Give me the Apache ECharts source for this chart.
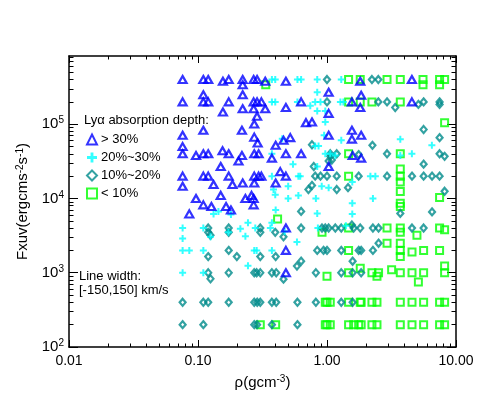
<!DOCTYPE html>
<html>
<head>
<meta charset="utf-8">
<script src="https://cdn.jsdelivr.net/npm/echarts@6/dist/echarts.min.js"></script>
<style>
  html, body { margin: 0; padding: 0; background: #fff; }
  #chart { width: 484px; height: 415px; }
</style>
</head>
<body>
<div id="chart"></div>
<script>
// Lya absorption depth groups, [rho (g cm^-3), Fxuv (erg cm^-2 s^-1)]
const gt30 = [
  [0.076, 4e5], [0.11, 4e5], [0.12, 4e5], [0.156, 3.8e5], [0.173, 4e5], [0.222, 4e5], [0.222, 3.4e5],
  [0.27, 4e5], [0.287, 4e5], [0.332, 3.8e5], [0.48, 3.8e5], [1.81, 3.8e5], [4.55, 4e5],
  [0.076, 2e5], [0.11, 2.5e5], [0.11, 2e5], [0.12, 2e5], [0.173, 2e5], [0.222, 2.5e5], [0.27, 2e5],
  [0.287, 2e5], [0.31, 2e5], [0.63, 2e5], [1.56, 2e5], [4.55, 2e5], [1.03, 2.7e5], [1.84, 2.46e5],
  [0.48, 1.68e5], [1.81, 1.68e5], [0.156, 1.46e5], [0.222, 1.62e5], [0.27, 1.62e5], [0.332, 1.62e5],
  [0.287, 1.28e5], [0.273, 1.01e5], [1.03, 1.4e5], [0.687, 1.05e5], [0.765, 1.07e5],
  [0.076, 7.1e4], [0.11, 8.3e4], [0.219, 8.3e4], [0.273, 6.7e4], [0.29, 5.6e4], [0.40, 5.2e4],
  [0.46, 6.1e4], [0.519, 6.6e4], [1.03, 7.1e4], [1.56, 8.3e4], [1.56, 6.3e4], [1.84, 7.1e4],
  [0.076, 5e4], [0.076, 4e4], [0.0965, 3.8e4], [0.11, 4e4], [0.12, 4e4], [0.155, 4.4e4], [0.173, 4e4],
  [0.219, 3.8e4], [0.273, 4e4], [0.295, 4e4], [0.374, 3.5e4], [0.48, 4e4], [0.63, 4e4], [1.58, 3.8e4],
  [1.84, 3.5e4], [0.15, 2.7e4], [0.206, 3.2e4], [1.03, 2.7e4],
  [0.076, 2e4], [0.11, 2e4], [0.12, 2e4], [0.173, 2e4], [0.273, 2e4], [0.295, 2e4], [0.31, 2e4],
  [0.434, 2.3e4], [0.48, 2e4],
  [0.076, 1.46e4], [0.132, 1.54e4], [0.185, 1.54e4], [0.222, 1.62e4], [0.273, 1.62e4], [0.40, 1.62e4],
  [0.0965, 1e4], [0.15, 1.1e4], [0.233, 1e4], [0.26, 1.1e4], [0.27, 1e4],
  [0.11, 8.2e3], [0.127, 7.8e3], [0.165, 7.8e3], [0.18, 7e3], [0.27, 8.2e3], [0.0856, 6.2e3],
  [0.48, 4e3], [0.48, 2e3], [0.48, 1e3]
]
const p20to30 = [
  [0.374, 4e5], [0.397, 4e5], [0.59, 4e5], [0.63, 4e5], [0.84, 4e5], [1.29, 4e5],
  [0.374, 2e5], [0.397, 2e5], [0.59, 2e5], [0.81, 2e5], [0.89, 2e5], [1.27, 2e5], [1.34, 2e5],
  [0.84, 2.7e5], [0.742, 1.77e5], [0.84, 1.51e5], [0.97, 1.51e5], [0.97, 1.07e5], [0.95, 7.1e4],
  [1.29, 6.1e4], [0.45, 6.4e4],
  [0.81, 5.1e4], [0.86, 5.1e4], [0.97, 4e4], [1.06, 4e4], [1.16, 3.8e4], [0.374, 4e4], [3.7, 6.3e4],
  [3.7, 3.8e4], [4.55, 4e4], [6.5, 5.2e4],
  [0.545, 2.9e4], [0.84, 2.7e4], [0.374, 2e4], [0.60, 2e4], [0.62, 2e4], [2.17, 2e4], [2.37, 2e4],
  [0.50, 1.46e4], [0.385, 1.32e4], [0.397, 1.12e4], [0.91, 1.46e4], [1.03, 1.4e4], [1.57, 1.67e4],
  [0.50, 1e4], [0.60, 1.1e4], [0.82, 1e4], [2.27, 1e4],
  [1.57, 8.6e3], [1.57, 6.2e3], [0.84, 6.3e3], [0.40, 7e3], [0.144, 6.7e3], [0.132, 6.2e3], [0.18, 6.1e3],
  [0.244, 4.7e3], [0.076, 4e3], [0.11, 4e3], [0.278, 4e3], [0.374, 4.7e3], [0.364, 4e3], [0.213, 3.9e3],
  [0.172, 3.5e3], [0.47, 3.6e3], [0.85, 4e3], [1.40, 4.3e3],
  [0.076, 2.9e3], [0.125, 3.05e3], [0.233, 3.1e3], [0.585, 2.6e3],
  [0.076, 2e3], [0.0856, 2e3], [0.11, 2e3], [0.273, 2e3], [0.285, 2e3], [0.374, 2e3], [0.244, 1.24e3],
  [0.076, 1e3], [0.11, 1e3]
]
const p10to20 = [
  [1.0, 4e5], [2.23, 4e5], [2.5, 4e5], [1.0, 2e5], [2.5, 2e5], [2.92, 2e5], [3.38, 1.68e5],
  [5.11, 1.85e5], [5.61, 2e5], [7.46, 2e5], [7.46, 1.85e5],
  [5.61, 8.5e4], [7.46, 6.6e4], [0.765, 5.3e4], [2.25, 5.2e4], [2.92, 4e4], [7.46, 4e4], [8.16, 3.7e4],
  [1.06, 4e4], [1.19, 4e4], [1.06, 3.7e4], [1.09, 3.3e4], [1.03, 3.2e4], [1.76, 3.9e4], [0.79, 2.7e4],
  [5.61, 2.9e4],
  [0.81, 2e4], [0.89, 2e4], [1.0, 2e4], [1.19, 2e4], [1.76, 2e4], [2.92, 2e4], [4.56, 2e4], [5.61, 2e4],
  [6.52, 2e4], [7.46, 2e4],
  [0.718, 1.32e4], [0.765, 1.5e4], [1.19, 1.32e4], [1.455, 1.4e4], [8.16, 1.25e4], [0.63, 6.7e3],
  [3.7, 6.3e3], [6.52, 6.6e3],
  [0.12, 4e3], [0.12, 3.5e3], [0.125, 3.2e3], [0.173, 4e3], [0.173, 3.5e3], [0.304, 4e3], [0.304, 3.5e3],
  [0.397, 3.5e3], [0.46, 3.05e3], [0.63, 4e3], [0.915, 4e3], [0.97, 4e3], [1.03, 4e3], [1.16, 4e3],
  [1.29, 4e3], [1.56, 4.4e3], [1.61, 4e3], [1.81, 4e3], [2.27, 4e3], [2.51, 4e3], [4.56, 4e3],
  [5.61, 4e3], [2.51, 2.5e3],
  [0.12, 1.65e3], [0.173, 2e3], [0.20, 1.65e3], [0.304, 1.65e3], [0.40, 1.65e3], [0.84, 2e3],
  [0.94, 2e3], [1.0, 2e3], [1.29, 2e3], [1.76, 2e3], [1.84, 2e3], [2.27, 2e3], [1.58, 1.43e3],
  [0.12, 1e3], [0.125, 830], [0.173, 1e3], [0.273, 1e3], [0.285, 1e3], [0.304, 1e3], [0.374, 1e3],
  [0.404, 1e3], [0.46, 820], [0.585, 1.23e3], [0.63, 1.43e3], [0.82, 1e3], [1.29, 1e3], [1.58, 1e3],
  [1.84, 1e3],
  [0.076, 400], [0.11, 400], [0.12, 400], [0.173, 400], [0.273, 400], [0.288, 400], [0.304, 400],
  [0.374, 400], [0.404, 400], [0.59, 400], [0.82, 400], [1.29, 400], [1.58, 400],
  [0.076, 200], [0.11, 200], [0.273, 200], [0.287, 200], [0.374, 200], [0.59, 200]
]
const lt10 = [
  [0.335, 3.4e5],
  [1.47, 4e5], [1.81, 4e5], [2.92, 4e5], [3.7, 4e5], [5.55, 4e5], [5.55, 3.4e5], [7.46, 4e5],
  [7.46, 3.4e5], [8.16, 4e5],
  [1.47, 2e5], [1.81, 2e5], [2.23, 2e5], [3.7, 2e5], [8.16, 1.05e5],
  [1.47, 4e4], [3.7, 4e4],
  [1.47, 2e4], [3.7, 2.5e4], [3.7, 2e4], [3.7, 1.67e4], [3.7, 1.24e4], [3.7, 8.6e3], [3.7, 7.8e3],
  [7.46, 1.03e4], [0.414, 5.3e3],
  [0.915, 3.5e3], [1.47, 4e3], [2.92, 4e3], [3.7, 4e3], [3.7, 3.5e3], [4.98, 3.2e3], [7.46, 4e3],
  [8.16, 3.8e3], [2.92, 2.5e3], [3.7, 2.5e3],
  [1.47, 2e3], [3.7, 2e3], [3.7, 1.65e3], [4.56, 1.9e3], [5.61, 2e3], [7.46, 2e3],
  [1.0, 900], [1.47, 1e3], [1.81, 1.15e3], [2.23, 1e3], [2.44, 900], [2.51, 1e3], [3.17, 1.1e3],
  [3.7, 1e3], [4.56, 1e3], [5.61, 1e3], [5.11, 750], [8.16, 1.23e3], [8.16, 1e3],
  [0.97, 400], [1.0, 400], [1.06, 400], [1.47, 400], [1.81, 400], [1.84, 400], [2.23, 400],
  [2.44, 400], [3.7, 400], [4.56, 400], [5.61, 400], [7.46, 400], [8.16, 400],
  [0.304, 200], [0.40, 200], [0.97, 200], [1.0, 200], [1.06, 200], [1.47, 200], [1.61, 200],
  [1.76, 200], [1.84, 200], [2.23, 200], [2.44, 200], [3.7, 200], [4.56, 200], [5.61, 200],
  [7.46, 200], [8.16, 200]
]

const seriesNames = ['> 30%', '20%~30%', '10%~20%', '< 10%']

const xMajor = [0.01, 0.1, 1, 10]
const xMinor = [0.02, 0.03, 0.04, 0.05, 0.06, 0.07, 0.08, 0.09, 0.2, 0.3, 0.4, 0.5, 0.6, 0.7, 0.8, 0.9,
  2, 3, 4, 5, 6, 7, 8, 9]
const yMajor = [1e2, 1e3, 1e4, 1e5]
const yMinor = [200, 300, 400, 500, 600, 700, 800, 900, 2e3, 3e3, 4e3, 5e3, 6e3, 7e3, 8e3, 9e3,
  2e4, 3e4, 4e4, 5e4, 6e4, 7e4, 8e4, 9e4, 2e5, 3e5, 4e5, 5e5, 6e5, 7e5, 8e5]

const FONT = 'Liberation Sans'
const plus = 'path://M2.5,0h2v2.5h2.5v2h-2.5v2.5h-2v-2.5h-2.5v-2h2.5z'

const chart = echarts.init(document.getElementById('chart'), null, { renderer: 'canvas' })

const logAxis = (position, min, max, ticks, len, extra) => Object.assign({
  type: 'log',
  logBase: 10,
  position,
  min,
  max,
  axisLine: { show: false },
  axisTick: { inside: true, length: len, customValues: ticks, lineStyle: { color: '#000', width: 1 } },
  axisLabel: { show: false },
  splitLine: { show: false },
  minorTick: { show: false },
  silent: true
}, extra || {})

const frame = { show: true, onZero: false, lineStyle: { color: '#000', width: 1.5 } }
const supRich = {
  b: { fontSize: 15, fontFamily: FONT, color: '#000', lineHeight: 17 },
  s: { fontSize: 10, fontFamily: FONT, color: '#000', verticalAlign: 'top', lineHeight: 17 }
}

const option = {
  animation: false,
  backgroundColor: '#fff',
  textStyle: { fontFamily: FONT },
  grid: { left: 69, right: 28, top: 56, bottom: 68, containLabel: false, outerBoundsMode: 'none' },
  xAxis: [
    logAxis('bottom', 0.01, 10, xMajor, 7, {
      axisLine: frame,
      axisLabel: {
        show: true, customValues: xMajor, margin: 7, color: '#000', fontSize: 14, fontFamily: FONT,
        formatter: (v) => v.toFixed(2)
      },
      name: '{b|ρ(gcm}{s|-3}{b|)}',
      nameLocation: 'middle',
      nameGap: 27,
      nameTextStyle: { rich: supRich }
    }),
    logAxis('bottom', 0.01, 10, xMinor, 3.5),
    logAxis('top', 0.01, 10, xMajor, 7, { axisLine: frame }),
    logAxis('top', 0.01, 10, xMinor, 3.5)
  ],
  yAxis: [
    logAxis('left', 100, 8.3e5, yMajor, 9, {
      axisLine: frame,
      axisLabel: {
        show: true, customValues: yMajor, margin: 5,
        formatter: (v) => '{b|10}{s|' + Math.round(Math.log10(v)) + '}',
        rich: {
          b: { fontSize: 15, fontFamily: FONT, color: '#000', lineHeight: 17 },
          s: { fontSize: 10, fontFamily: FONT, color: '#000', verticalAlign: 'top', lineHeight: 17 }
        }
      },
      name: '{b|Fxuv(ergcms}{s|-2}{b|s}{s|-1}{b|)}',
      nameLocation: 'middle',
      nameGap: 34,
      nameRotate: 90,
      nameTextStyle: { rich: supRich }
    }),
    logAxis('left', 100, 8.3e5, yMinor, 4.5),
    logAxis('right', 100, 8.3e5, yMajor, 9, { axisLine: frame }),
    logAxis('right', 100, 8.3e5, yMinor, 4.5)
  ],
  legend: {
    data: seriesNames,
    orient: 'vertical',
    left: 86,
    top: 133,
    itemWidth: 10,
    itemHeight: 10,
    itemGap: 5,
    padding: 0,
    selectedMode: false,
    textStyle: { fontSize: 13, fontFamily: FONT, color: '#000', padding: [0, 0, 0, -1] }
  },
  graphic: [
    {
      type: 'text', left: 84, top: 114, silent: true,
      style: { text: 'Lyα absorption depth:', font: '13px "Liberation Sans"', fill: '#000' }
    },
    {
      type: 'text', left: 79, top: 269, silent: true,
      style: { text: 'Line width:\n[-150,150] km/s', font: '13px "Liberation Sans"', fill: '#000', lineHeight: 14 }
    }
  ],
  series: [
    {
      name: seriesNames[0], type: 'scatter', data: gt30, symbol: 'triangle', symbolSize: [8, 7],
      itemStyle: { color: 'rgba(0,0,0,0)', borderColor: '#0000ff', borderWidth: 2.2 }, z: 4
    },
    {
      name: seriesNames[1], type: 'scatter', data: p20to30, symbol: plus, symbolSize: 7,
      itemStyle: { color: '#00ffff' }, z: 3
    },
    {
      name: seriesNames[2], type: 'scatter', data: p10to20, symbol: 'diamond', symbolSize: [6, 7],
      itemStyle: { color: 'rgba(0,0,0,0)', borderColor: '#008b8b', borderWidth: 2.2 }, z: 2
    },
    {
      name: seriesNames[3], type: 'scatter', data: lt10, symbol: 'rect', symbolSize: 7,
      itemStyle: { color: 'rgba(0,0,0,0)', borderColor: '#00ff00', borderWidth: 2 }, z: 1
    }
  ]
}

chart.setOption(option)
</script>
</body>
</html>
